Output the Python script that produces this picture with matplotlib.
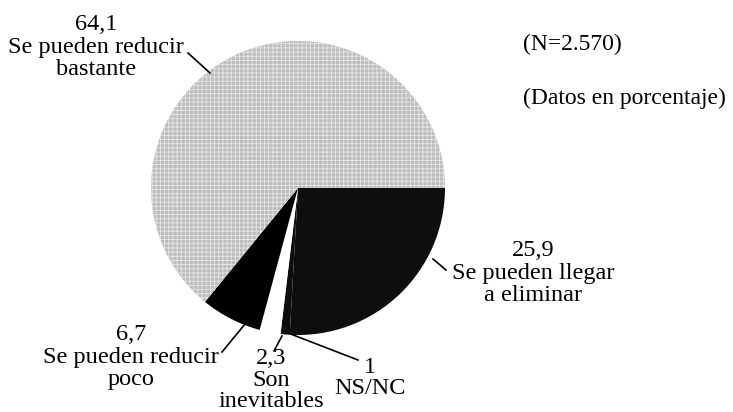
import matplotlib
matplotlib.use("Agg")
import matplotlib.pyplot as plt

values = [25.9, 1, 2.3, 6.7, 64.1]
colors = ["#0e0e0e", "#0e0e0e", "#ffffff", "#000000", "#bdbdbd"]
labels = [
    "25,9\nSe pueden llegar\na eliminar",
    "1\nNS/NC",
    "2,3\nSon\ninevitables",
    "6,7\nSe pueden reducir\npoco",
    "64,1\nSe pueden reducir\nbastante",
]

W, H = 733, 412
plt.rcParams["hatch.color"] = "#e6e6e6"
plt.rcParams["hatch.linewidth"] = 0.6
fig = plt.figure(figsize=(W / 100, H / 100), dpi=100)
ax = fig.add_axes([0, 0, 1, 1])

def Y(y):
    return H - y

cx, cy, r = 298, 188, 147
wedges, _ = ax.pie(values, colors=colors, startangle=0, counterclock=False,
                   center=(cx, Y(cy)), radius=r, frame=True,
                   wedgeprops=dict(linewidth=0))
wedges[4].set_hatch("++++")
ax.set_xlim(0, W)
ax.set_ylim(0, H)
ax.set_aspect("equal")
ax.axis("off")

font = dict(family="Liberation Serif", fontsize=17.5, ha="center", va="center")

# label blocks (pixel centre), line spacing and leader lines
text_pos = [(533, 273), (370, 378), (271, 380), (131, 357), (96, 47)]
spacing = [1.12, 1.05, 1.02, 1.12, 1.12]
leaders = [((433, 259), (446, 270)), ((288, 333), (358, 360)),
           ((282, 336), (274, 351)), ((250, 318), (222, 352)),
           ((210, 73), (188, 53))]

for lab, (tx, ty), ls, (p0, p1) in zip(labels, text_pos, spacing, leaders):
    ax.text(tx, Y(ty), lab, linespacing=ls, **font)
    ax.plot([p0[0], p1[0]], [Y(p0[1]), Y(p1[1])], color="black", lw=1.2)

ax.text(523, Y(44), "(N=2.570)", family="Liberation Serif", fontsize=17,
        ha="left", va="center")
ax.text(523, Y(98), "(Datos en porcentaje)", family="Liberation Serif",
        fontsize=17, ha="left", va="center")

fig.savefig("out.png", dpi=100, facecolor="white")
